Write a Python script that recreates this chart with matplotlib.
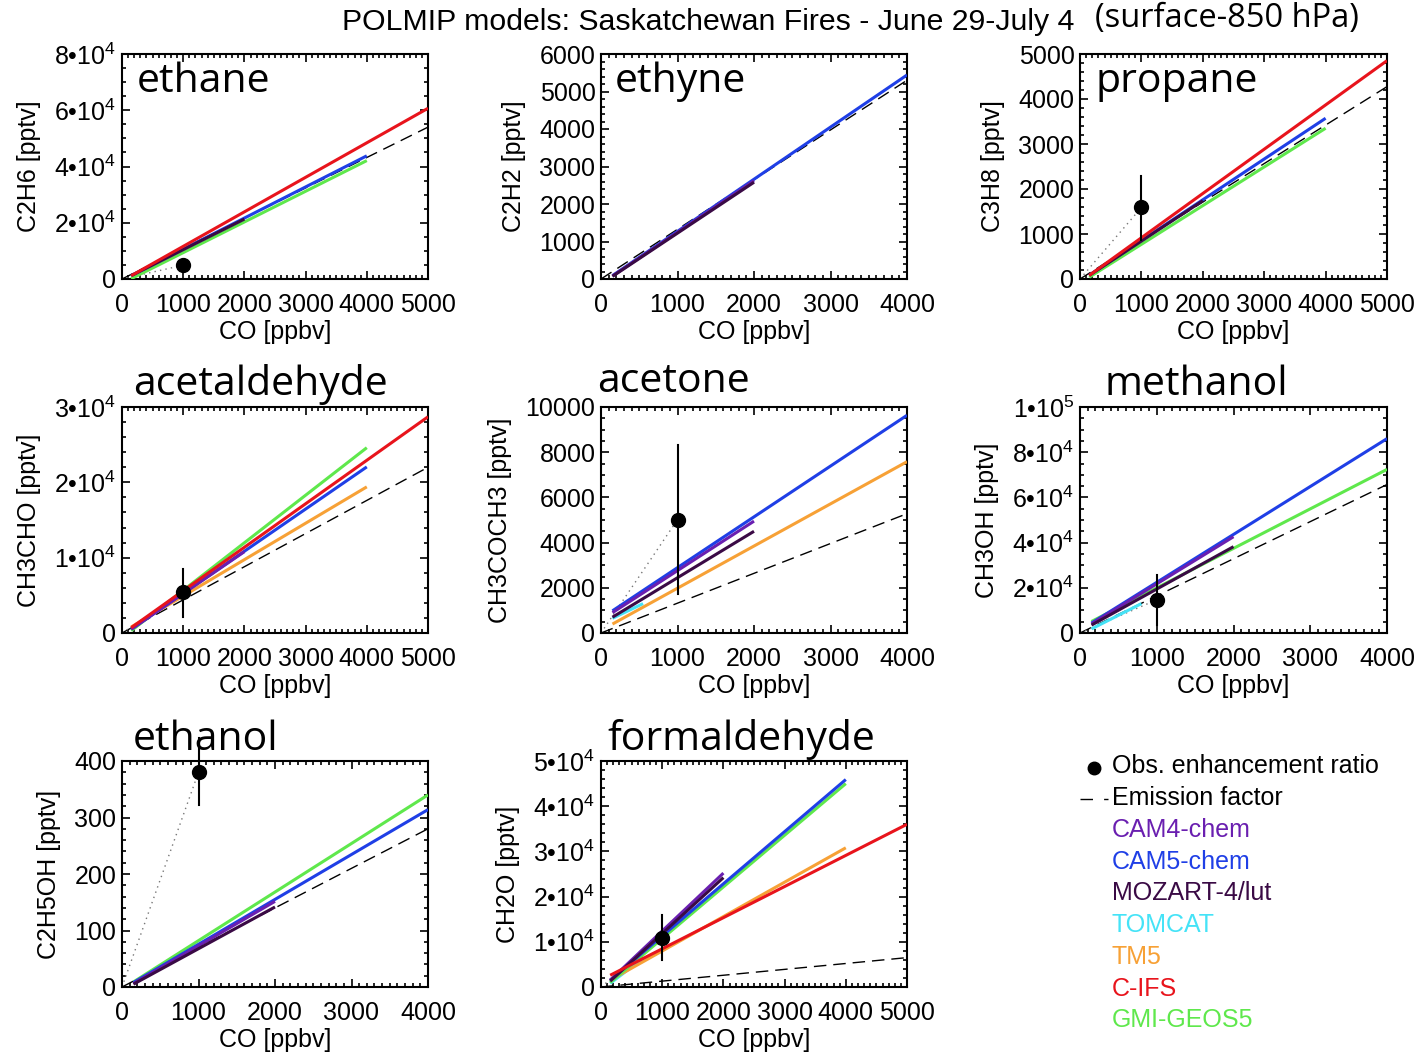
import numpy as np
import matplotlib
matplotlib.use("Agg")
import matplotlib.pyplot as plt
from matplotlib.ticker import MultipleLocator, AutoMinorLocator, FuncFormatter
from matplotlib.lines import Line2D

plt.rcParams['font.family'] = ['Liberation Sans', 'DejaVu Sans']
plt.rcParams['mathtext.fontset'] = 'custom'
plt.rcParams['mathtext.rm'] = 'Liberation Sans'
plt.rcParams['mathtext.it'] = 'Liberation Sans:italic'
plt.rcParams['mathtext.bf'] = 'Liberation Sans:bold'

nan = np.nan

# panels: ethane, ethyne, propane, acetaldehyde, acetone, methanol, ethanol, formaldehyde
names = ['ethane', 'ethyne', 'propane', 'acetaldehyde', 'acetone', 'methanol', 'ethanol', 'formaldehyde']
ylabels = ['C2H6 [pptv]', 'C2H2 [pptv]', 'C3H8 [pptv]', 'CH3CHO [pptv]',
           'CH3COCH3 [pptv]', 'CH3OH [pptv]', 'C2H5OH [pptv]', 'CH2O [pptv]']
xmax = [5000, 4000, 5000, 5000, 4000, 4000, 4000, 5000]
ymax = [8e4, 6000, 5000, 3e4, 10000, 1e5, 400, 5e4]
ystep = [2e4, 1000, 1000, 1e4, 2000, 2e4, 100, 1e4]
yminor = [4, 5, 5, 5, 4, 4, 5, 5]
sci = [True, False, False, True, False, True, False, True]

# emission factor line, value at right edge of the panel
ef_end = [54.0e3, 5300, 4275, 22.0e3, 5280, 65.7e3, 280, 6.5e3]

# observed enhancement ratio
obs_co = [1000, nan, 1000, 1000, 1000, 1000, 1000, 1000]
obs_y = [4.9e3, nan, 1590, 5.4e3, 5015, 14.7e3, 380, 10.9e3]
obs_lo = [4.9e3, nan, 873, 2.1e3, 1716, 3.7e3, 322, 6.0e3]
obs_hi = [4.9e3, nan, 2278, 8.5e3, 8314, 25.7e3, 440, 15.9e3]

# model lines start at co_start, end at *_co_end
co_start = 150
models = ['CAM4-chem', 'CAM5-chem', 'MOZART-4/lut', 'TOMCAT', 'TM5', 'C-IFS', 'GMI-GEOS5']
colors = ['#6a1fb0', '#1f3fe6', '#3a0a45', '#45e3f7', '#f7a136', '#e8141c', '#5fe84c']

cam4_co_end = [nan, 2000, nan, 2000, 2000, 2000, 2000, 2000]
cam4_y0 = [nan, 80, nan, 500, 900, 4.0e3, 6, 1.5e3]
cam4_y1 = [nan, 2620, nan, 10.8e3, 4950, 42.6e3, 151.6, 25.2e3]

cam5_co_end = [4000, 4000, 4000, 4000, 4000, 4000, 4000, 4000]
cam5_y0 = [1.2e3, 90, 84, 500, 982, 4.4e3, 8, 1.5e3]
cam5_y1 = [43.8e3, 5440, 3572, 22.05e3, 9633, 86.0e3, 314, 45.9e3]

mozart_co_end = [2000, 2000, 2000, nan, 2000, 2000, 2000, 2000]
mozart_y0 = [1.2e3, 70, 80, nan, 700, 3.5e3, 5, 1.3e3]
mozart_y1 = [21.3e3, 2580, 1740, nan, 4500, 38.2e3, 141.6, 24.2e3]

tomcat_co_end = [nan, nan, nan, nan, 550, 800, nan, 700]
tomcat_y0 = [nan, nan, nan, nan, 650, 1.8e3, nan, 800]
tomcat_y1 = [nan, nan, nan, nan, 1300, 13e3, nan, 6.5e3]

tm5_co_end = [nan, nan, nan, 4000, 4000, nan, nan, 4000]
tm5_y0 = [nan, nan, nan, 800, 396, nan, nan, 1.5e3]
tm5_y1 = [nan, nan, nan, 19.4e3, 7580, nan, nan, 30.8e3]

cifs_co_end = [5000, nan, 5000, 5000, nan, nan, nan, 5000]
cifs_y0 = [1.17e3, nan, 80, 700, nan, nan, nan, 2.6e3]
cifs_y1 = [60.7e3, nan, 4852, 28.7e3, nan, nan, nan, 36.0e3]

gmi_co_end = [4000, nan, 4000, 4000, nan, 4000, 4000, 4000]
gmi_y0 = [100, nan, 40, 300, nan, 5.1e3, 9, 1.0e3]
gmi_y1 = [42.1e3, nan, 3350, 24.6e3, nan, 72.4e3, 340, 45.0e3]

model_data = {
    'CAM4-chem': (cam4_co_end, cam4_y0, cam4_y1),
    'CAM5-chem': (cam5_co_end, cam5_y0, cam5_y1),
    'MOZART-4/lut': (mozart_co_end, mozart_y0, mozart_y1),
    'TOMCAT': (tomcat_co_end, tomcat_y0, tomcat_y1),
    'TM5': (tm5_co_end, tm5_y0, tm5_y1),
    'C-IFS': (cifs_co_end, cifs_y0, cifs_y1),
    'GMI-GEOS5': (gmi_co_end, gmi_y0, gmi_y1),
}
draw_order = ['TOMCAT', 'TM5', 'GMI-GEOS5', 'CAM5-chem', 'CAM4-chem', 'MOZART-4/lut', 'C-IFS']

W, H = 1419, 1052
fig = plt.figure(figsize=(W / 100, H / 100), dpi=100)

cols = [(122, 428), (601, 907), (1080, 1387)]
rows = [(54, 279), (407, 633), (761, 987)]
# title anchor in axes fraction (x, baseline y)
title_pos = [(0.049, 0.83), (0.046, 0.83), (0.052, 0.83), (0.036, 1.053),
             (-0.013, 1.066), (0.081, 1.053), (0.036, 1.049), (0.02, 1.049)]
FS = 18


def sci_fmt(v, pos):
    if v == 0:
        return '0'
    e = int(np.floor(np.log10(abs(v)) + 1e-9))
    m = v / 10 ** e
    return '%g•10$^{%d}$' % (m, e)


for i, name in enumerate(names):
    l, r = cols[i % 3]
    t, b = rows[i // 3]
    ax = fig.add_axes([l / W, 1 - b / H, (r - l) / W, (b - t) / H])
    ax.set_xlim(0, xmax[i])
    ax.set_ylim(0, ymax[i])

    # emission factor
    ax.plot([0, xmax[i]], [0, ef_end[i]], color='k', lw=1.0, dashes=(9, 5), zorder=2)

    for m in draw_order:
        ce, y0, y1 = model_data[m]
        if np.isnan(ce[i]):
            continue
        ax.plot([co_start, ce[i]], [y0[i], y1[i]], color=colors[models.index(m)],
                lw=2.2, solid_capstyle='butt', zorder=3)

    if not np.isnan(obs_y[i]):
        ax.plot([0, obs_co[i]], [0, obs_y[i]], color='#777777', lw=1.0, ls=(0, (1, 3)), zorder=2)
        ax.plot([obs_co[i], obs_co[i]], [obs_lo[i], obs_hi[i]], color='k', lw=1.5,
                zorder=4, clip_on=False)
        ax.plot(obs_co[i], obs_y[i], 'o', color='k', ms=10, zorder=5, clip_on=False)

    ax.xaxis.set_major_locator(MultipleLocator(1000))
    ax.xaxis.set_minor_locator(AutoMinorLocator(10))
    ax.yaxis.set_major_locator(MultipleLocator(ystep[i]))
    ax.yaxis.set_minor_locator(AutoMinorLocator(yminor[i]))
    if sci[i]:
        ax.yaxis.set_major_formatter(FuncFormatter(sci_fmt))
    else:
        ax.yaxis.set_major_formatter(FuncFormatter(lambda v, p: '%d' % v))
    ax.xaxis.set_major_formatter(FuncFormatter(lambda v, p: '%d' % v))
    ax.tick_params(which='both', direction='in', top=True, right=True, labelsize=FS, width=1.2)
    ax.tick_params(which='major', length=6)
    ax.tick_params(which='minor', length=3)
    ax.tick_params(axis='x', pad=10)
    ax.tick_params(axis='y', pad=4)
    for s in ax.spines.values():
        s.set_linewidth(1.5)
    ax.set_xlabel('CO [ppbv]', fontsize=FS, labelpad=2)
    ax.set_ylabel(ylabels[i], fontsize=FS, labelpad=10)

    tx, ty = title_pos[i]
    ax.text(tx, ty, name, transform=ax.transAxes, fontsize=29.5, family=['Open Sans', 'DejaVu Sans'],
            va='baseline', ha='left', clip_on=False, zorder=6)

# title
fig.text(342 / W, 1 - 22 / H, 'POLMIP models: Saskatchewan Fires - June 29-July 4',
         family=['Liberation Sans Narrow', 'Liberation Sans'], fontsize=21.8, va='center', ha='left')
fig.text(1095 / W, 1 - 18 / H, '(surface-850 hPa)', family=['Open Sans', 'DejaVu Sans'],
         fontsize=23.5, va='center', ha='left')

# legend
LFS = 18
fig.add_artist(Line2D([1094 / W], [1 - 768 / H], marker='o', color='k', ms=9, ls='none'))
fig.text(1112 / W, 1 - 766 / H, 'Obs. enhancement ratio', fontsize=LFS, va='center', ha='left')
fig.add_artist(Line2D([1080 / W, 1108 / W], [1 - 799 / H, 1 - 799 / H], color='k', lw=1.0,
                      dashes=(9, 8)))
fig.text(1112 / W, 1 - 798 / H, 'Emission factor', fontsize=LFS, va='center', ha='left')
for k, m in enumerate(models):
    fig.text(1112 / W, 1 - (830 + 31.7 * k) / H, m, fontsize=LFS, color=colors[k],
             va='center', ha='left')

fig.savefig('out.png', dpi=100)
